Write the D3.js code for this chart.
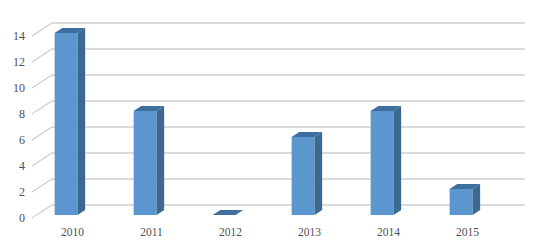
<!DOCTYPE html>
<html>
<head>
<meta charset="utf-8">
<script src="https://cdn.jsdelivr.net/npm/d3@7"></script>
<style>
  body { margin: 0; background: #fff; }
  text { font-family: "Liberation Serif", serif; fill: #4f4f4f; }
</style>
</head>
<body>
<svg></svg>
<script>
// chart data
var years = ['2010', '2011', '2012', '2013', '2014', '2015'];
var counts = [14, 8, 0, 6, 8, 2];
var yTicks = [0, 2, 4, 6, 8, 10, 12, 14];

var canvasWidth = 535;
var canvasHeight = 249;
var svg = d3.select('svg')
  .attr('width', canvasWidth)
  .attr('height', canvasHeight);

// 3d depth of the floor / walls
var depthX = 20;
var depthY = -13;
var barDepth = 0.23;   // where the bar front sits in the depth
var barThick = 0.38;   // how deep the bar is

var xScale = d3.scaleBand().domain(years).range([22, 496]).paddingInner(0.71).paddingOuter(0.355);
var yScale = d3.scaleLinear().domain([0, 14]).range([218, 36]);

// gridlines on back wall and left floor diagonal
var grid = svg.append('g');
yTicks.forEach(function(v) {
  grid.append('line')
    .attr('x1', 32 + depthX).attr('x2', 525)
    .attr('y1', yScale(v) + depthY).attr('y2', yScale(v) + depthY)
    .attr('stroke', '#cfcfcf').attr('stroke-width', 1.4);
  grid.append('line')
    .attr('x1', 32).attr('y1', yScale(v))
    .attr('x2', 32 + depthX).attr('y2', yScale(v) + depthY)
    .attr('stroke', '#cfcfcf').attr('stroke-width', 1.4);
});

// y labels
svg.append('g').selectAll('text')
  .data(yTicks)
  .enter().append('text')
  .attr('x', 25)
  .attr('y', function(d) { return yScale(d); })
  .attr('dy', '0.35em')
  .style('text-anchor', 'end')
  .style('font-size', '12px')
  .text(function(d) { return d; });

// x labels
svg.append('g').selectAll('text')
  .data(years)
  .enter().append('text')
  .attr('x', function(d) { return xScale(d) + xScale.bandwidth() / 2 + depthX * 0.55; })
  .attr('y', 232)
  .attr('dy', '0.35em')
  .style('text-anchor', 'middle')
  .style('font-size', '11.5px')
  .text(function(d) { return d; });

// bars
var ox = depthX * barDepth, oy = depthY * barDepth;
var dx = depthX * barThick, dy = depthY * barThick;
var bars = svg.append('g').selectAll('.bar')
  .data(years.map(function(y, i) { return { year: y, value: counts[i] }; }))
  .enter().append('g')
  .attr('class', 'bar');

function pts(arr) {
  return arr.map(function(p) { return p[0] + ',' + p[1]; }).join(' ');
}

bars.each(function(d) {
  var g = d3.select(this);
  var x0 = xScale(d.year) + ox;
  var x1 = x0 + xScale.bandwidth();
  var yb = yScale(0) + oy;
  var yt = yScale(d.value) + oy;
  if (d.value > 0) {
    g.append('rect')
      .attr('x', x0).attr('y', yt)
      .attr('width', x1 - x0).attr('height', yb - yt)
      .attr('fill', '#5b96cf');
    g.append('polygon')
      .attr('points', pts([[x1, yt], [x1 + dx, yt + dy], [x1 + dx, yb + dy], [x1, yb]]))
      .attr('fill', '#3d6890');
  }
  g.append('polygon')
    .attr('points', pts([[x0, yt], [x1, yt], [x1 + dx, yt + dy], [x0 + dx, yt + dy]]))
    .attr('fill', '#3f6f9e');
});
</script>
</body>
</html>
